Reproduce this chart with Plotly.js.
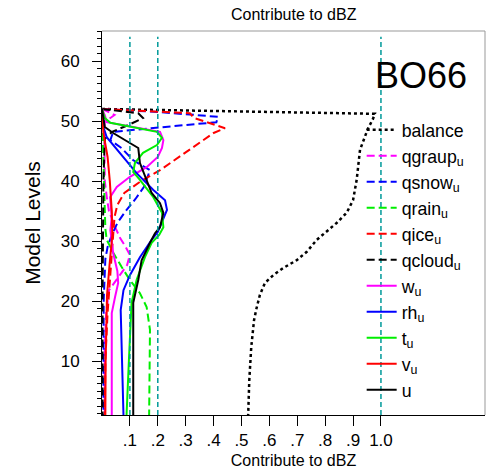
<!DOCTYPE html>
<html>
<head>
<meta charset="utf-8">
<script src="https://cdn.plot.ly/plotly-3.0.1.min.js"></script>
<style>html,body{margin:0;padding:0;background:#fff;}#chart{width:488px;height:473px;}</style>
</head>
<body>
<div id="chart"></div>
<script>
// ---- data (x = contribution to dBZ, lev = model level) ----
const balanceLev = [52, 51.2, 50.3, 48.7, 45.2, 40.2, 36.8, 34.7, 33, 31.5, 30.2, 28.2, 26.8, 25.5, 24.3, 23, 21, 18.8, 16.8, 12.3, 6.8, 1];
const balanceX   = [0, 0.978, 0.971, 0.953, 0.925, 0.913, 0.90, 0.877, 0.841, 0.805, 0.77, 0.734, 0.698, 0.65, 0.614, 0.584, 0.566, 0.554, 0.545, 0.535, 0.528, 0.524];

const qgraupLev = [52, 51.5, 51, 50.5, 50, 48, 44, 40, 37, 35, 32.3, 30.5, 29, 27.7, 26, 24, 21.8, 18, 12, 6, 1];
const qgraupX   = [0, 0.02, 0.045, 0.03, 0.01, 0.008, 0.008, 0.01, 0.018, 0.025, 0.047, 0.065, 0.085, 0.1, 0.09, 0.06, 0.025, 0.015, 0.01, 0.01, 0.01];

const qsnowLev = [52, 51.5, 50.7, 49.8, 48.2, 46.8, 45.5, 43.5, 41.8, 39, 37, 35, 33, 31, 29, 27, 20, 10, 1];
const qsnowX   = [0, 0.2, 0.416, 0.41, 0.04, 0.03, 0.07, 0.111, 0.172, 0.15, 0.12, 0.085, 0.055, 0.035, 0.02, 0.012, 0.006, 0.005, 0.005];

const qrainLev = [52, 45, 38, 32, 30.2, 28, 25.7, 23.5, 21.3, 19, 15.2, 8, 1];
const qrainX   = [0, 0.005, 0.008, 0.012, 0.017, 0.041, 0.07, 0.1, 0.136, 0.16, 0.172, 0.17, 0.169];

const qiceLev = [52, 51.3, 50.5, 48.8, 48, 45.2, 43.2, 41.8, 40, 38, 36, 34, 31, 28, 25, 18, 10, 1];
const qiceX   = [0, 0.315, 0.33, 0.441, 0.40, 0.315, 0.254, 0.208, 0.14, 0.08, 0.055, 0.045, 0.04, 0.035, 0.03, 0.02, 0.012, 0.01];

const qcloudLev = [52, 51.3, 50.5, 49.3, 48.2, 47, 40, 30, 20, 10, 1];
const qcloudX   = [0, 0.13, 0.147, 0.093, 0.036, 0.01, 0.005, 0.003, 0.002, 0.002, 0.002];

const wLev = [52, 51, 49.8, 48.2, 46.8, 45.5, 44, 42.3, 40.7, 39, 37.3, 34, 31.8, 28, 25, 23, 20.7, 18, 10, 1];
const wX   = [0, 0.01, 0.017, 0.208, 0.22, 0.215, 0.2, 0.16, 0.1, 0.053, 0.029, 0.035, 0.03, 0.04, 0.055, 0.058, 0.047, 0.035, 0.035, 0.035];

const rhLev = [52, 49, 47.3, 44, 41.3, 38.5, 36.8, 35.2, 33, 31.5, 30.2, 27.3, 24.3, 21.8, 18.5, 10.7, 1];
const rhX   = [0, 0.005, 0.017, 0.077, 0.124, 0.184, 0.226, 0.233, 0.215, 0.2, 0.178, 0.136, 0.1, 0.077, 0.067, 0.072, 0.077];

const tLev = [52, 50.5, 49.7, 48.2, 47.2, 46, 44.7, 43, 41.5, 40.2, 37.3, 34.7, 32.3, 31, 29.7, 27.3, 23.5, 19.7, 10.7, 1];
const tX   = [0, 0.01, 0.03, 0.197, 0.215, 0.197, 0.147, 0.118, 0.112, 0.136, 0.184, 0.215, 0.22, 0.205, 0.178, 0.154, 0.124, 0.106, 0.097, 0.088];

const vLev = [52, 48, 44, 40, 35, 31, 26, 21, 10, 1];
const vX   = [0, 0.005, 0.02, 0.028, 0.035, 0.037, 0.027, 0.018, 0.013, 0.012];

const uLev = [52, 49, 48, 45.5, 43, 40.2, 38, 36.3, 34.7, 32.3, 31.3, 29.7, 26.8, 23.5, 19.7, 10, 1];
const uX   = [0, 0.01, 0.04, 0.13, 0.136, 0.16, 0.178, 0.208, 0.22, 0.208, 0.19, 0.172, 0.142, 0.13, 0.112, 0.112, 0.112];

const refLinesX = [0.1, 0.2, 1.0];
const xTickVals = [0.1, 0.2, 0.3, 0.4, 0.5, 0.6, 0.7, 0.8, 0.9, 1.0];
const xTickText = ['.1', '.2', '.3', '.4', '.5', '.6', '.7', '.8', '.9', '1.0'];
const yTickVals = [10, 20, 30, 40, 50, 60];

// ---- traces ----
const DASH = '8px,4px';
function tr(name, x, y, color, dash, width) {
  return {type: 'scatter', mode: 'lines', name: name, x: x, y: y,
          line: {color: color, dash: dash, width: width || 2}};
}
const data = [
  tr('balance', balanceX, balanceLev, '#000000', '3px,3px', 2.5),
  tr('qgraup<sub>u</sub>', qgraupX, qgraupLev, '#ff00ff', DASH),
  tr('qsnow<sub>u</sub>', qsnowX, qsnowLev, '#0000ff', DASH),
  tr('qrain<sub>u</sub>', qrainX, qrainLev, '#00ee00', DASH),
  tr('qice<sub>u</sub>', qiceX, qiceLev, '#ff0000', DASH),
  tr('qcloud<sub>u</sub>', qcloudX, qcloudLev, '#000000', DASH),
  tr('w<sub>u</sub>', wX, wLev, '#ff00ff', 'solid'),
  tr('rh<sub>u</sub>', rhX, rhLev, '#0000ff', 'solid'),
  tr('t<sub>u</sub>', tX, tLev, '#00ee00', 'solid'),
  tr('v<sub>u</sub>', vX, vLev, '#ff0000', 'solid'),
  tr('u', uX, uLev, '#000000', 'solid')
];

const FONT = 'Liberation Sans, Arial, Helvetica, sans-serif';
const shapes = refLinesX.map(v => ({
  type: 'line', xref: 'x', yref: 'paper', x0: v, x1: v, y0: 0, y1: 0.985,
  line: {color: '#009a9a', width: 1.5, dash: '5px,3px'}, layer: 'above'
}));
shapes.push({type: 'line', xref: 'paper', yref: 'paper', x0: 0, x1: 1, y0: 1, y1: 1, line: {color: '#999999', width: 1}});
shapes.push({type: 'line', xref: 'paper', yref: 'paper', x0: 1, x1: 1, y0: 0, y1: 1, line: {color: '#999999', width: 1}});

const layout = {
  width: 488, height: 473,
  margin: {l: 102, r: 3, t: 31, b: 58},
  paper_bgcolor: '#ffffff', plot_bgcolor: '#ffffff',
  font: {family: FONT, color: '#000000'},
  showlegend: true,
  legend: {
    x: 0.678, y: 0.79, xanchor: 'left', yanchor: 'top',
    font: {family: FONT, size: 17.7, color: '#000000'},
    bgcolor: 'rgba(0,0,0,0)', borderwidth: 0, tracegroupgap: 0,
    itemwidth: 30
  },
  xaxis: {
    range: [0, 1.373], showgrid: false, zeroline: false,
    tickmode: 'array', tickvals: xTickVals, ticktext: xTickText,
    ticks: 'outside', ticklen: 10, tickcolor: '#000000', tickwidth: 1,
    showline: true, linecolor: '#000000', linewidth: 1,
    tickfont: {family: FONT, size: 17, color: '#000000'},
    title: {text: 'Contribute to dBZ', font: {family: FONT, size: 16, color: '#000000'}, standoff: 5}
  },
  yaxis: {
    range: [1, 65], showgrid: false, zeroline: false,
    tickmode: 'array', tickvals: yTickVals,
    ticks: 'outside', ticklen: 9, tickcolor: '#000000', tickwidth: 1,
    ticklabelstandoff: 9,
    showline: true, linecolor: '#000000', linewidth: 1,
    tickfont: {family: FONT, size: 17, color: '#000000'},
    minor: {dtick: 1.25, tick0: 0, ticks: 'outside', ticklen: 4, tickcolor: '#000000', showgrid: false},
    title: {text: 'Model Levels', font: {family: FONT, size: 21, color: '#000000'}, standoff: 14}
  },
  shapes: shapes,
  annotations: [
    {text: 'Contribute to dBZ', xref: 'paper', yref: 'paper', x: 0.5, y: 1.044,
     xanchor: 'center', yanchor: 'middle', showarrow: false,
     font: {family: FONT, size: 16, color: '#000000'}},
    {text: 'BO66', xref: 'paper', yref: 'paper', x: 0.834, y: 0.885,
     xanchor: 'center', yanchor: 'middle', showarrow: false,
     font: {family: FONT, size: 36, color: '#000000'}}
  ]
};

Plotly.newPlot('chart', data, layout, {displayModeBar: false, staticPlot: true});
</script>
</body>
</html>
